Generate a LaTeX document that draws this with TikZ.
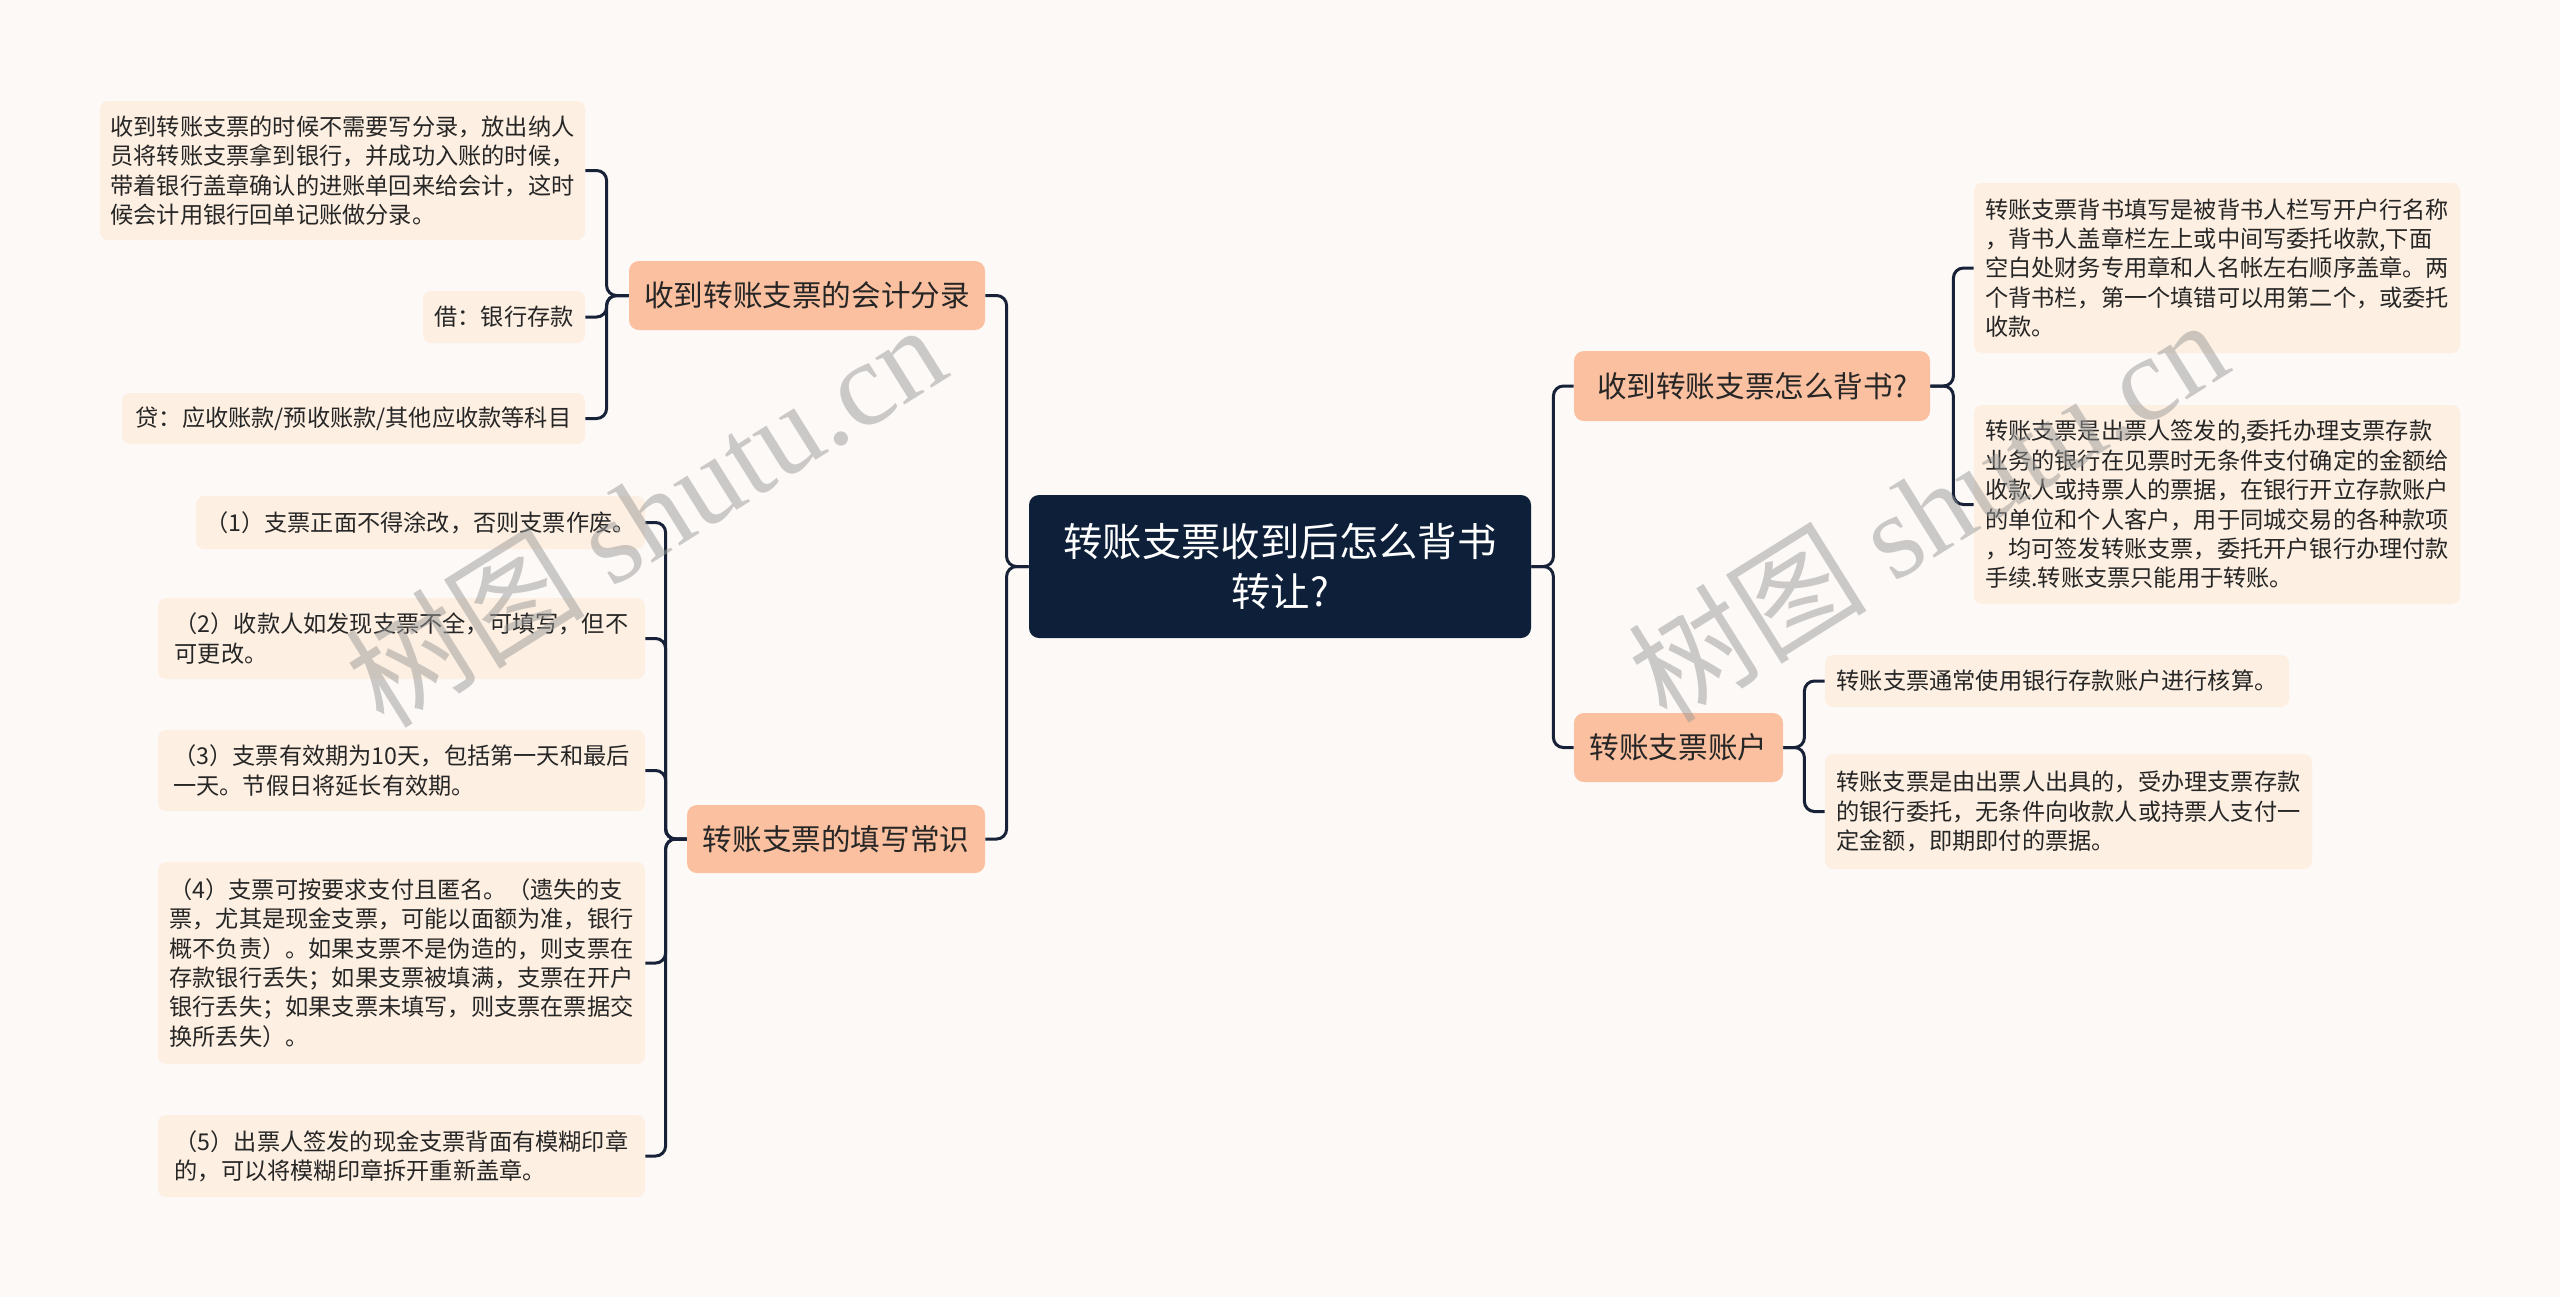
\documentclass[tikz,border=0pt]{standalone}
\usepackage{fontspec}
\setmainfont{Noto Sans CJK SC}
\newfontfamily\wmlatin{Liberation Serif}
\newfontfamily\wmcjk{Noto Sans CJK SC}
\definecolor{bgc}{HTML}{FDF9F7}
\definecolor{leafc}{HTML}{FDEFE1}
\definecolor{topc}{HTML}{FBC09F}
\definecolor{rootc}{HTML}{0D1F39}
\definecolor{linec}{HTML}{172238}
\definecolor{txtc}{HTML}{262626}
\definecolor{wmc}{HTML}{9A9A9A}
\tikzset{
  leaf/.style={fill=leafc, rounded corners=4pt, inner sep=0pt, align=left, text=txtc,
    font=\fontsize{11.6pt}{14.7pt}\selectfont},
  topic/.style={fill=topc, rounded corners=5pt, inner sep=0pt, text=txtc,
    font=\fontsize{14.8pt}{18pt}\selectfont},
  rootnode/.style={fill=rootc, rounded corners=5pt, inner sep=0pt, align=center, text=white,
    font=\fontsize{19.7pt}{25.3pt}\selectfont},
  conn/.style={draw=linec, line width=1.5pt, rounded corners=5pt},
  wmark/.style={text=wmc, opacity=0.5, rotate=32, inner sep=0pt}
}
\begin{document}
\begin{tikzpicture}[x=0.5pt,y=-0.5pt]
\fill[bgc] (0,0) rectangle (2560,1297);
\useasboundingbox (0,0) rectangle (2560,1297);

% root
\node[rootnode, minimum width=251pt, minimum height=71.5pt] (root) at (1280,566.5)
  {转账支票收到后怎么背书\\转让?};

% level 1
\node[topic, minimum width=178pt, minimum height=34.5pt] (L1) at (807,295.5) {收到转账支票的会计分录};
\node[topic, minimum width=149pt, minimum height=34pt] (L2) at (836,839) {转账支票的填写常识};
\node[topic, minimum width=178pt, minimum height=35pt] (R1) at (1752,386) {收到转账支票怎么背书?};
\node[topic, minimum width=104.5pt, minimum height=34.5pt] (R2) at (1678.5,747.5) {转账支票账户};

% left group 1
\node[leaf, minimum width=242.5pt, minimum height=69.5pt] (A) at (342.5,170.5)
  {收到转账支票的时候不需要写分录，放出纳人\\员将转账支票拿到银行，并成功入账的时候，\\带着银行盖章确认的进账单回来给会计，这时\\候会计用银行回单记账做分录。};
\node[leaf, minimum width=81pt, minimum height=26pt] (B) at (504,317) {借：银行存款};
\node[leaf, minimum width=231.5pt, minimum height=25.5pt] (C) at (353.5,418.5) {贷：应收账款/预收账款/其他应收款等科目};

% left group 2
\node[leaf, minimum width=224.5pt, minimum height=26.5pt] (P1) at (420.5,522.5)
  {（1）支票正面不得涂改，否则支票作废。};
\node[leaf, minimum width=243.5pt, minimum height=40.5pt] (P2) at (401.5,638.5)
  {（2）收款人如发现支票不全，可填写，但不\\可更改。};
\node[leaf, minimum width=243.5pt, minimum height=40.5pt] (P3) at (401.5,770.5)
  {（3）支票有效期为10天，包括第一天和最后\\一天。节假日将延长有效期。};
\node[leaf, minimum width=243.5pt, minimum height=101pt] (P4) at (401.5,963)
  {（4）支票可按要求支付且匿名。（遗失的支\\票，尤其是现金支票，可能以面额为准，银行\\概不负责）。如果支票不是伪造的，则支票在\\存款银行丢失；如果支票被填满，支票在开户\\银行丢失；如果支票未填写，则支票在票据交\\换所丢失）。};
\node[leaf, minimum width=243.5pt, minimum height=41pt] (P5) at (401.5,1156)
  {（5）出票人签发的现金支票背面有模糊印章\\的，可以将模糊印章拆开重新盖章。};

% right group 1
\node[leaf, minimum width=243pt, minimum height=85pt] (Q1) at (2217,268)
  {转账支票背书填写是被背书人栏写开户行名称\\，背书人盖章栏左上或中间写委托收款,下面\\空白处财务专用章和人名帐左右顺序盖章。两\\个背书栏，第一个填错可以用第二个，或委托\\收款。};
\node[leaf, minimum width=243pt, minimum height=99.5pt] (Q2) at (2217,504.5)
  {转账支票是出票人签发的,委托办理支票存款\\业务的银行在见票时无条件支付确定的金额给\\收款人或持票人的票据，在银行开立存款账户\\的单位和个人客户，用于同城交易的各种款项\\，均可签发转账支票，委托开户银行办理付款\\手续.转账支票只能用于转账。};

% right group 2
\node[leaf, minimum width=232pt, minimum height=26pt] (S1) at (2057,681)
  {转账支票通常使用银行存款账户进行核算。};
\node[leaf, minimum width=243.5pt, minimum height=57.5pt] (S2) at (2068.5,811.5)
  {转账支票是由出票人出具的，受办理支票存款\\的银行委托，无条件向收款人或持票人支付一\\定金额，即期即付的票据。};

% connectors root
\draw[conn] (root.west) -- ++(-22,0) |- (L1.east);
\draw[conn] (root.west) -- ++(-22,0) |- (L2.east);
\draw[conn] (root.east) -- ++(22,0) |- (R1.west);
\draw[conn] (root.east) -- ++(22,0) |- (R2.west);
% L1
\draw[conn] (L1.west) -- ++(-22,0) |- (A.east);
\draw[conn] (L1.west) -- ++(-22,0) |- (B.east);
\draw[conn] (L1.west) -- ++(-22,0) |- (C.east);
% L2
\draw[conn] (L2.west) -- ++(-21,0) |- (P1.east);
\draw[conn] (L2.west) -- ++(-21,0) |- (P2.east);
\draw[conn] (L2.west) -- ++(-21,0) |- (P3.east);
\draw[conn] (L2.west) -- ++(-21,0) |- (P4.east);
\draw[conn] (L2.west) -- ++(-21,0) |- (P5.east);
% R1
\draw[conn] (R1.east) -- ++(23,0) |- (Q1.west);
\draw[conn] (R1.east) -- ++(23,0) |- (Q2.west);
% R2
\draw[conn] (R2.east) -- ++(21,0) |- (S1.west);
\draw[conn] (R2.east) -- ++(21,0) |- (S2.west);

% watermarks
\node[wmark] (wm1) at (645,514) {\wmcjk\fontsize{60pt}{60pt}\selectfont 树图 \wmlatin shutu.cn};
\node[wmark] (wm2) at (1927,509) {\wmcjk\fontsize{60pt}{60pt}\selectfont 树图 \wmlatin shutu.cn};
\end{tikzpicture}
\end{document}
